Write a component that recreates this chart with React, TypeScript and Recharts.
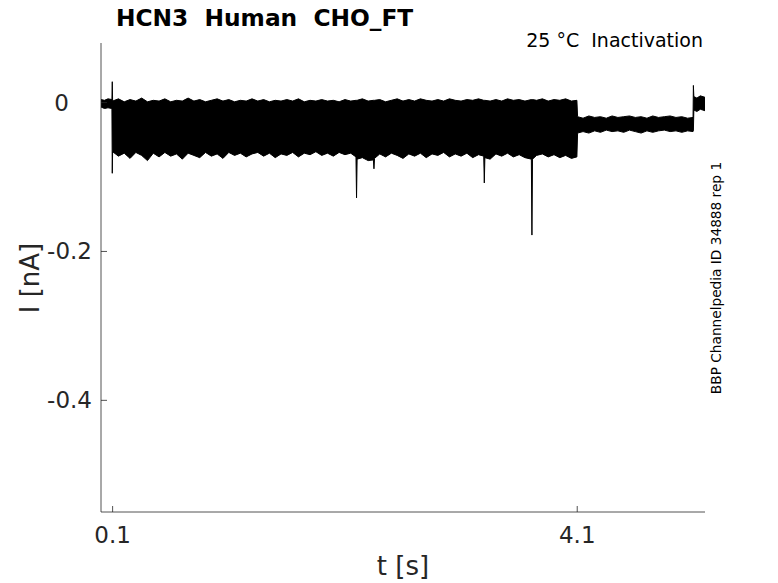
import React from 'react';
import { ComposedChart, Area, XAxis, YAxis } from 'recharts';

// envelope of the overlaid current traces (time in s, current in nA)

// holding level before the step
const holdTime = [0, 0.03, 0.06, 0.094];
const holdLow = [-0.006, -0.008, -0.007, -0.008];
const holdHigh = [0.004, 0.003, 0.005, 0.004];

// test pulse, 0.1 .. 4.1 s (noisy band with a few spikes)
const pulseTime = [
  0.097, 0.1, 0.15, 0.2, 0.25, 0.3, 0.35, 0.4, 0.45, 0.5,
  0.55, 0.6, 0.65, 0.7, 0.75, 0.8, 0.85, 0.9, 0.95, 1.0,
  1.05, 1.1, 1.15, 1.2, 1.25, 1.3, 1.35, 1.4, 1.45, 1.5,
  1.55, 1.6, 1.65, 1.7, 1.75, 1.8, 1.85, 1.9, 1.95, 2.0,
  2.05, 2.1, 2.15, 2.195, 2.2, 2.205, 2.25, 2.3, 2.345, 2.35,
  2.355, 2.4, 2.45, 2.5, 2.55, 2.6, 2.65, 2.7, 2.75, 2.8,
  2.85, 2.9, 2.95, 3.0, 3.05, 3.1, 3.15, 3.2, 3.25, 3.295,
  3.3, 3.305, 3.35, 3.4, 3.45, 3.5, 3.55, 3.6, 3.65, 3.705,
  3.71, 3.715, 3.75, 3.8, 3.85, 3.9, 3.95, 4.0, 4.05, 4.097,
];
const pulseLow = [
  -0.095, -0.066, -0.072, -0.068, -0.075, -0.067, -0.071, -0.078, -0.068, -0.073,
  -0.067, -0.072, -0.069, -0.076, -0.068, -0.071, -0.074, -0.067, -0.072, -0.069,
  -0.075, -0.067, -0.071, -0.068, -0.073, -0.069, -0.067, -0.072, -0.068, -0.074,
  -0.069, -0.071, -0.067, -0.073, -0.068, -0.07, -0.066, -0.071, -0.068, -0.072,
  -0.067, -0.07, -0.068, -0.073, -0.128, -0.076, -0.074, -0.078, -0.077, -0.089,
  -0.075, -0.069, -0.073, -0.068, -0.071, -0.075, -0.069, -0.072, -0.068, -0.074,
  -0.069, -0.071, -0.067, -0.073, -0.069, -0.072, -0.068, -0.074, -0.07, -0.072,
  -0.108, -0.074, -0.076, -0.069, -0.072, -0.068, -0.073, -0.07, -0.074, -0.076,
  -0.178, -0.076, -0.071, -0.069, -0.073, -0.07, -0.074, -0.071, -0.075, -0.073,
];
const pulseHigh = [
  0.028, 0.002, 0.005, 0.001, 0.004, 0.002, 0.006, 0.001, 0.003, 0.002,
  0.005, 0.001, 0.003, 0.002, 0.006, 0.002, 0.004, 0.001, 0.003, 0.005,
  0.002, 0.004, 0.001, 0.003, 0.002, 0.005, 0.002, 0.004, 0.001, 0.003,
  0.002, 0.004, 0.002, 0.005, 0.001, 0.003, 0.002, 0.004, 0.002, 0.003,
  0.001, 0.004, 0.002, 0.003, 0.003, 0.003, 0.005, 0.002, 0.003, 0.003,
  0.003, 0.004, 0.001, 0.003, 0.005, 0.002, 0.004, 0.002, 0.005, 0.003,
  0.002, 0.004, 0.002, 0.005, 0.003, 0.002, 0.004, 0.003, 0.005, 0.003,
  0.003, 0.003, 0.002, 0.004, 0.002, 0.005, 0.003, 0.004, 0.002, 0.004,
  0.004, 0.004, 0.003, 0.005, 0.002, 0.004, 0.003, 0.005, 0.002, 0.003,
];

// tail, 4.1 .. 5.1 s
const tailTime = [
  4.103, 4.15, 4.2, 4.25, 4.3, 4.35, 4.4, 4.45, 4.5, 4.55,
  4.6, 4.65, 4.7, 4.75, 4.8, 4.85, 4.9, 4.95, 5.0, 5.05, 5.097,
];
const tailLow = [
  -0.041, -0.039, -0.041, -0.038, -0.04, -0.037, -0.039, -0.038, -0.04, -0.037,
  -0.039, -0.041, -0.038, -0.04, -0.038, -0.037, -0.039, -0.038, -0.04, -0.038, -0.039,
];
const tailHigh = [
  -0.019, -0.021, -0.018, -0.02, -0.019, -0.021, -0.018, -0.02, -0.019, -0.018,
  -0.02, -0.019, -0.021, -0.018, -0.02, -0.019, -0.018, -0.02, -0.019, -0.021, -0.02,
];

// back to holding after 5.1 s
const endTime = [5.1, 5.104, 5.13, 5.16, 5.2];
const endLow = [-0.038, -0.01, -0.012, -0.009, -0.011];
const endHigh = [0.023, 0.008, 0.006, 0.009, 0.007];

const xTicks = [0.1, 4.1];
const yTicks = [-0.4, -0.2, 0];

const traceTime = [...holdTime, ...pulseTime, ...tailTime, ...endTime];
const traceLow = [...holdLow, ...pulseLow, ...tailLow, ...endLow];
const traceHigh = [...holdHigh, ...pulseHigh, ...tailHigh, ...endHigh];
const data = traceTime.map((t, i) => ({ t, band: [traceLow[i], traceHigh[i]] }));

const FONT = '"DejaVu Sans", sans-serif';
const INK = '#262626';

const XTick = (props: any) => {
  const { x, y, payload } = props;
  return (
    <g>
      <line x1={x} x2={x} y1={y} y2={y - 6} stroke={INK} strokeWidth={0.8} />
      <text x={x} y={y + 31} textAnchor="middle" fontSize={23} fill={INK} fontFamily={FONT}>
        {payload.value}
      </text>
    </g>
  );
};

const YTick = (props: any) => {
  const { x, y, payload } = props;
  const off = payload.value === 0 ? 32 : 9;
  return (
    <g>
      <line x1={x} x2={x + 6} y1={y} y2={y} stroke={INK} strokeWidth={0.8} />
      <text x={x - off} y={y + 8} textAnchor="end" fontSize={23} fill={INK} fontFamily={FONT}>
        {payload.value}
      </text>
    </g>
  );
};

const pre = { whiteSpace: 'pre' as const };

export default function App() {
  return (
    <div style={{ position: 'relative', width: 770, height: 575 }}>
      <ComposedChart width={770} height={575} data={data} margin={{ top: 35, right: 73, left: 0, bottom: 0 }}>
        <XAxis
          dataKey="t"
          type="number"
          domain={[0, 5.2]}
          ticks={xTicks}
          allowDataOverflow
          height={71}
          tickLine={false}
          tickSize={0}
          tickMargin={0}
          axisLine={{ stroke: INK, strokeWidth: 0.8 }}
          tick={<XTick />}
        />
        <YAxis
          type="number"
          domain={[-0.55, 0.08]}
          ticks={yTicks}
          allowDataOverflow
          width={93}
          tickLine={false}
          tickSize={0}
          tickMargin={0}
          axisLine={{ stroke: INK, strokeWidth: 0.8 }}
          tick={<YTick />}
        />
        <Area
          dataKey="band"
          type="linear"
          fill="#000"
          fillOpacity={1}
          stroke="#000"
          strokeWidth={1}
          dot={false}
          activeDot={false}
          isAnimationActive={false}
        />
      </ComposedChart>
      <svg width={778} height={583} style={{ position: 'absolute', left: -8, top: -8, pointerEvents: 'none' }}>
        <text x={116} y={26} fontSize={23.3} fontWeight="bold" fill="#000" fontFamily={FONT} xmlSpace="preserve" style={pre}>
          {'HCN3  Human  CHO_FT'}
        </text>
        <text x={703} y={47} fontSize={19} textAnchor="end" fill="#000" fontFamily={FONT} xmlSpace="preserve" style={pre}>
          {'25 °C  Inactivation'}
        </text>
        <text x={403} y={575} fontSize={26} textAnchor="middle" fill={INK} fontFamily={FONT}>
          t [s]
        </text>
        <text x={39} y={278} fontSize={26} textAnchor="middle" fill={INK} fontFamily={FONT} transform="rotate(-90 39 278)">
          I [nA]
        </text>
        <text x={721} y={278} fontSize={13.7} textAnchor="middle" fill="#000" fontFamily={FONT} transform="rotate(-90 721 278)">
          BBP Channelpedia ID 34888 rep 1
        </text>
      </svg>
    </div>
  );
}
